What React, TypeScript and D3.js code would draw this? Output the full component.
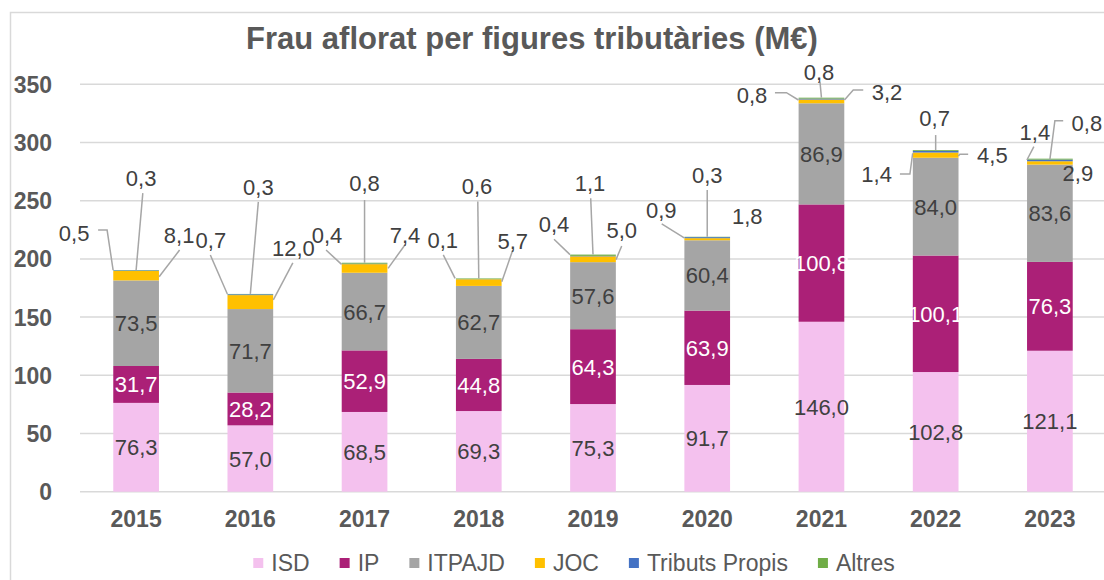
import React, { useEffect, useRef } from 'react';
import * as d3 from 'd3';

// ---- Data ----
const years = ['2015', '2016', '2017', '2018', '2019', '2020', '2021', '2022', '2023'];
const isd = [76.3, 57.0, 68.5, 69.3, 75.3, 91.7, 146.0, 102.8, 121.1];
const ip = [31.7, 28.2, 52.9, 44.8, 64.3, 63.9, 100.8, 100.1, 76.3];
const itpajd = [73.5, 71.7, 66.7, 62.7, 57.6, 60.4, 86.9, 84.0, 83.6];
const joc = [8.1, 12.0, 7.4, 5.7, 5.0, 1.8, 3.2, 4.5, 2.9];
const tributsPropis = [0.5, 0.7, 0.4, 0.1, 0.4, 0.9, 0.8, 1.4, 1.4];
const altres = [0.3, 0.3, 0.8, 0.6, 1.1, 0.3, 0.8, 0.7, 0.8];
const seriesNames = ['ISD', 'IP', 'ITPAJD', 'JOC', 'Tributs Propis', 'Altres'];
const yTicks = [0, 50, 100, 150, 200, 250, 300, 350];
const title = 'Frau aflorat per figures tributàries (M€)';

// ---- Styling / layout (not data) ----
const colors: Record<string, string> = {
  ISD: '#F4C1EE',
  IP: '#AB2077',
  ITPAJD: '#A5A5A5',
  JOC: '#FFC000',
  'Tributs Propis': '#4472C4',
  Altres: '#70AD47',
};
const labelColors: Record<string, string> = {
  ISD: '#404040',
  IP: '#FFFFFF',
  ITPAJD: '#404040',
};
type Callout = { t: [number, number]; l?: [number, number][] };
// offsets (px) relative to (bar centre, bar top) for the small-value callouts
const calloutLayout: { tp: Callout; al: Callout; joc: Callout }[] = [
  { tp: { t: [-62, -37.4], l: [[-38, -40], [-29, -40], [-23, 0]] }, al: { t: [5, -92.4], l: [[6.7, -77], [0, 0]] }, joc: { t: [43, -35], l: [[43.5, -20], [23, 6.6]] } },
  { tp: { t: [-39.5, -54], l: [[-40, -39], [-23, 0]] }, al: { t: [8, -107], l: [[8, -92], [0, 0]] }, joc: { t: [43, -46], l: [[42.5, -31], [23, 6]] } },
  { tp: { t: [-37.5, -27.7], l: [[-38.5, -12.7], [-23, 1.6]] }, al: { t: [0, -79.4], l: [[0, -62.7], [0, 0]] }, joc: { t: [40.5, -27.7], l: [[40.5, -18], [23.5, 5.6]] } },
  { tp: { t: [-36, -38.5], l: [[-35.5, -23.5], [-23.7, 0]] }, al: { t: [-1.7, -92.5], l: [[-1, -77], [0, 0]] }, joc: { t: [34, -37], l: [[34, -28.5], [23, 3.2]] } },
  { tp: { t: [-39, -30.6], l: [[-39, -15.3], [-23, 0]] }, al: { t: [-3, -71.3], l: [[-2.3, -56.3], [0, 0]] }, joc: { t: [28.7, -24.6], l: [[28.7, -8.6], [23, 5]] } },
  { tp: { t: [-46, -26.8], l: [[-45.5, -12.8], [-23, 1]] }, al: { t: [0, -61.8], l: [[0, -46.8], [0, 0]] }, joc: { t: [40, -21] } },
  { tp: { t: [-69.5, -2.7], l: [[-46.5, -5], [-35, -5], [-23, 2.3]] }, al: { t: [-2.5, -25.7], l: [[-1.5, -16], [0, 0]] }, joc: { t: [65.5, -6], l: [[41.8, -7.7], [31.8, -7.7], [23, 2.3]] } },
  { tp: { t: [-59, 24], l: [[-35.75, 24], [-25.75, 24], [-23, 3.2]] }, al: { t: [-1, -31.8], l: [[0, -15], [0, 0]] }, joc: { t: [56.75, 5], l: [[32.5, 4.2], [24.2, 4.2], [22.6, 6]] } },
  { tp: { t: [-15, -27], l: [[-16, -12], [-23, 1.3]] }, al: { t: [37, -35.4], l: [[13.3, -38], [5, -38], [0, 0.6]] }, joc: { t: [28, 14.6] } },
];

const W = 1104;
const H = 580;
const FONT = '"Liberation Sans", Arial, sans-serif';
const fmt = (v: number) => d3.format('.1f')(v).replace('.', ',');

export default function App() {
  const ref = useRef<SVGSVGElement>(null);

  useEffect(() => {
    const svg = d3.select(ref.current);
    svg.selectAll('*').remove();

    const rows = years.map((yr, i) => ({
      year: yr,
      ISD: isd[i],
      IP: ip[i],
      ITPAJD: itpajd[i],
      JOC: joc[i],
      'Tributs Propis': tributsPropis[i],
      Altres: altres[i],
    }));
    const stacked = d3.stack<any>().keys(seriesNames)(rows);

    const x = d3.scaleBand<string>().domain(years).range([79, 1107]).paddingInner(0.6).paddingOuter(0.3);
    const y = d3.scaleLinear().domain([0, 350]).range([491.7, 84.3]);
    const bw = x.bandwidth();

    // outer chart border
    svg.append('rect')
      .attr('x', 10.5).attr('y', 12.5).attr('width', 1200).attr('height', 700)
      .attr('fill', '#fff').attr('stroke', '#D9D9D9').attr('stroke-width', 1.5);

    // title
    svg.append('text')
      .attr('x', 532).attr('y', 48.5)
      .attr('text-anchor', 'middle')
      .attr('font-family', FONT).attr('font-size', 31).attr('font-weight', 'bold')
      .attr('fill', '#595959')
      .text(title);

    // gridlines
    svg.append('g').selectAll('line').data(yTicks).join('line')
      .attr('x1', 80).attr('x2', W)
      .attr('y1', (d) => y(d)).attr('y2', (d) => y(d))
      .attr('stroke', '#D9D9D9').attr('stroke-width', 1.5);

    // y tick labels
    svg.append('g').selectAll('text').data(yTicks).join('text')
      .attr('x', 52).attr('y', (d) => y(d) + 8.4)
      .attr('text-anchor', 'end')
      .attr('font-family', FONT).attr('font-size', 23).attr('font-weight', 'bold')
      .attr('fill', '#595959')
      .text((d) => String(d));

    // bars
    const g = svg.append('g');
    stacked.forEach((layer) => {
      g.append('g').selectAll('rect').data(layer).join('rect')
        .attr('x', (d: any) => x(d.data.year)!)
        .attr('width', bw)
        .attr('y', (d: any) => y(d[1]))
        .attr('height', (d: any) => Math.max(0, y(d[0]) - y(d[1])))
        .attr('fill', colors[layer.key]);
    });

    // inner labels
    stacked.slice(0, 3).forEach((layer) => {
      g.append('g').selectAll('text').data(layer).join('text')
        .attr('x', (d: any) => x(d.data.year)! + bw / 2)
        .attr('y', (d: any) => (y(d[0]) + y(d[1])) / 2 + 8)
        .attr('text-anchor', 'middle')
        .attr('font-family', FONT).attr('font-size', 22)
        .attr('fill', labelColors[layer.key])
        .text((d: any) => fmt(d[1] - d[0]));
    });

    // callouts for small segments
    const totals = rows.map((_, i) => stacked[stacked.length - 1][i][1]);
    const line = d3.line();
    years.forEach((yr, i) => {
      const cx = x(yr)! + bw / 2;
      const top = y(totals[i]);
      const lay = calloutLayout[i];
      const items: [Callout, number][] = [
        [lay.tp, tributsPropis[i]],
        [lay.al, altres[i]],
        [lay.joc, joc[i]],
      ];
      items.forEach(([c, v]) => {
        if (c.l) {
          svg.append('path')
            .attr('d', line(c.l.map(([dx, dy]) => [cx + dx, top + dy]))!)
            .attr('fill', 'none').attr('stroke', '#A6A6A6').attr('stroke-width', 1.5);
        }
        svg.append('text')
          .attr('x', cx + c.t[0]).attr('y', top + c.t[1] + 8)
          .attr('text-anchor', 'middle')
          .attr('font-family', FONT).attr('font-size', 22)
          .attr('fill', '#404040')
          .text(fmt(v));
      });
    });

    // x labels
    svg.append('g').selectAll('text').data(years).join('text')
      .attr('x', (d) => x(d)! + bw / 2).attr('y', y(0) + 35)
      .attr('text-anchor', 'middle')
      .attr('font-family', FONT).attr('font-size', 23).attr('font-weight', 'bold')
      .attr('fill', '#595959')
      .text((d) => d);

    // legend (flow layout, centred)
    const lg = svg.append('g');
    const sq = 10, gapText = 8, gapItem = 30;
    let cursor = 0;
    seriesNames.forEach((name) => {
      const item = lg.append('g').attr('transform', `translate(${cursor},0)`);
      item.append('rect').attr('x', 0).attr('y', -5).attr('width', sq).attr('height', sq).attr('fill', colors[name]);
      const t = item.append('text')
        .attr('x', sq + gapText).attr('y', 8)
        .attr('font-family', FONT).attr('font-size', 23)
        .attr('fill', '#595959')
        .text(name);
      const tw = (t.node() as SVGTextElement).getComputedTextLength();
      cursor += sq + gapText + tw + gapItem;
    });
    const total = cursor - gapItem;
    lg.attr('transform', `translate(${574 - total / 2},563)`);
  }, []);

  return (
    <svg
      ref={ref}
      width={W}
      height={H}
      style={{ position: 'absolute', left: 0, top: 0, background: '#fff' }}
    />
  );
}
